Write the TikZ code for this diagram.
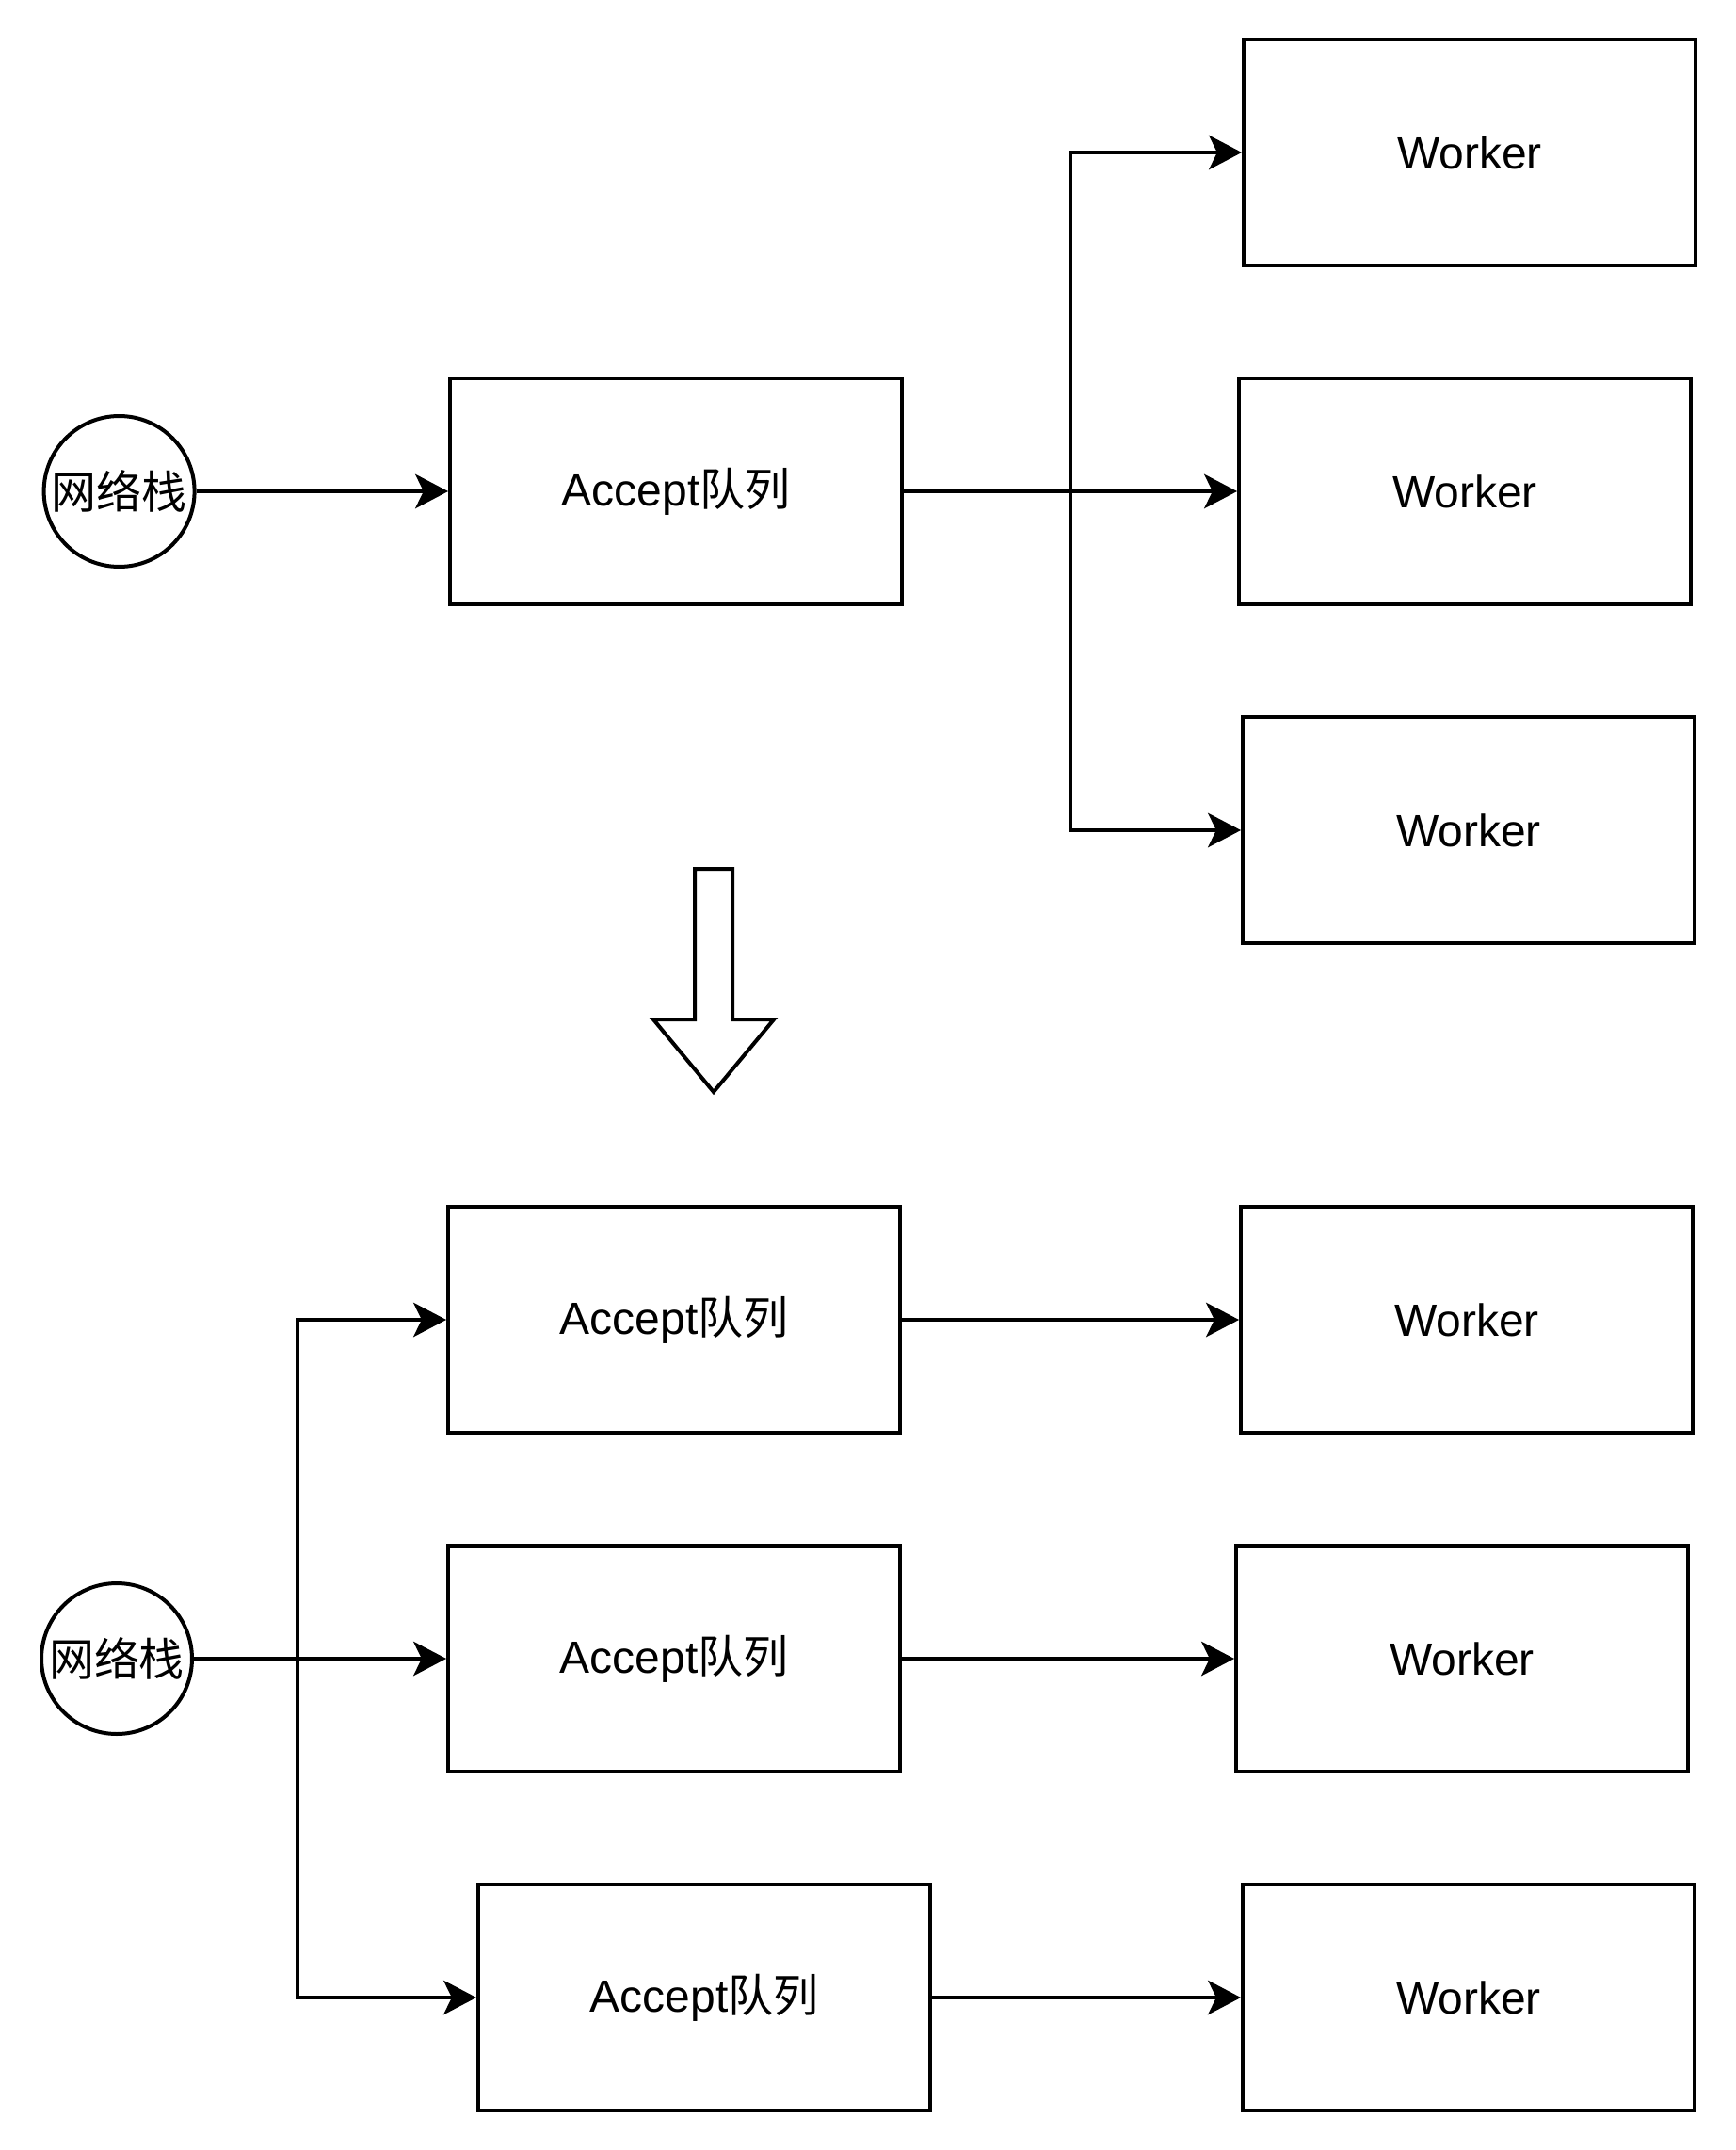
\documentclass[tikz,border=0pt]{standalone}
\usepackage{fontspec}
\setmainfont{Liberation Sans}
\newfontfamily\cjk{Noto Sans CJK SC}
\usepackage{tikz}
\usetikzlibrary{arrows.meta}
\usetikzlibrary{positioning}

\tikzset{
 box/.style={rectangle, draw=black, line width=2.75pt, inner sep=0pt,
  minimum width=330pt, minimum height=165pt},
 stack/.style={circle, draw=black, line width=2.75pt, inner sep=0pt,
  minimum size=110pt},
 link/.style={line width=2.75pt, draw=black,
  -{Stealth[length=24pt, width=25pt, inset=6pt]}}
}

\begin{document}
\begin{tikzpicture}[x=1.37523pt, y=-1.37523pt, font=\fontsize{33}{39}\selectfont]
 \useasboundingbox (0, 0) rectangle (922, 1142);

 % one queue, three workers
 \node [stack] (N1) at (63.3, 261) {\cjk 网络栈};
 \node [box] (Q1) at (359, 261) {Accept{\cjk 队列}};
 \node [box] (W1) at (780.5, 81) {Worker};
 \node [box] (W2) at (778, 261) {Worker};
 \node [box] (W3) at (780, 441) {Worker};
 \coordinate (S1) at (568.6, 261);
 \draw [link] (N1) to (Q1);
 \draw [link] (Q1) to (W2);
 \draw [link] (S1) |- (W1);
 \draw [link] (S1) |- (W3);

 % big hollow arrow
 \draw [line width=2.75pt, draw=black, fill=white]
  (369, 461.5) -- (389, 461.5) -- (389, 541.5) -- (411, 541.5) -- (379, 580)
  -- (347, 541.5) -- (369, 541.5) -- cycle;

 % one queue per worker
 \node [stack] (N2) at (62, 881) {\cjk 网络栈};
 \node [box] (Q2) at (358, 701) {Accept{\cjk 队列}};
 \node [box] (Q3) at (358, 881) {Accept{\cjk 队列}};
 \node [box] (Q4) at (374, 1061) {Accept{\cjk 队列}};
 \node [box] (W4) at (779, 701) {Worker};
 \node [box] (W5) at (776.5, 881) {Worker};
 \node [box] (W6) at (780, 1061) {Worker};
 \coordinate (S2) at (157.8, 881);
 \draw [link] (N2) to (Q3);
 \draw [link] (S2) |- (Q2);
 \draw [link] (S2) |- (Q4);
 \draw [link] (Q2) to (W4);
 \draw [link] (Q3) to (W5);
 \draw [link] (Q4) to (W6);
\end{tikzpicture}
\end{document}
